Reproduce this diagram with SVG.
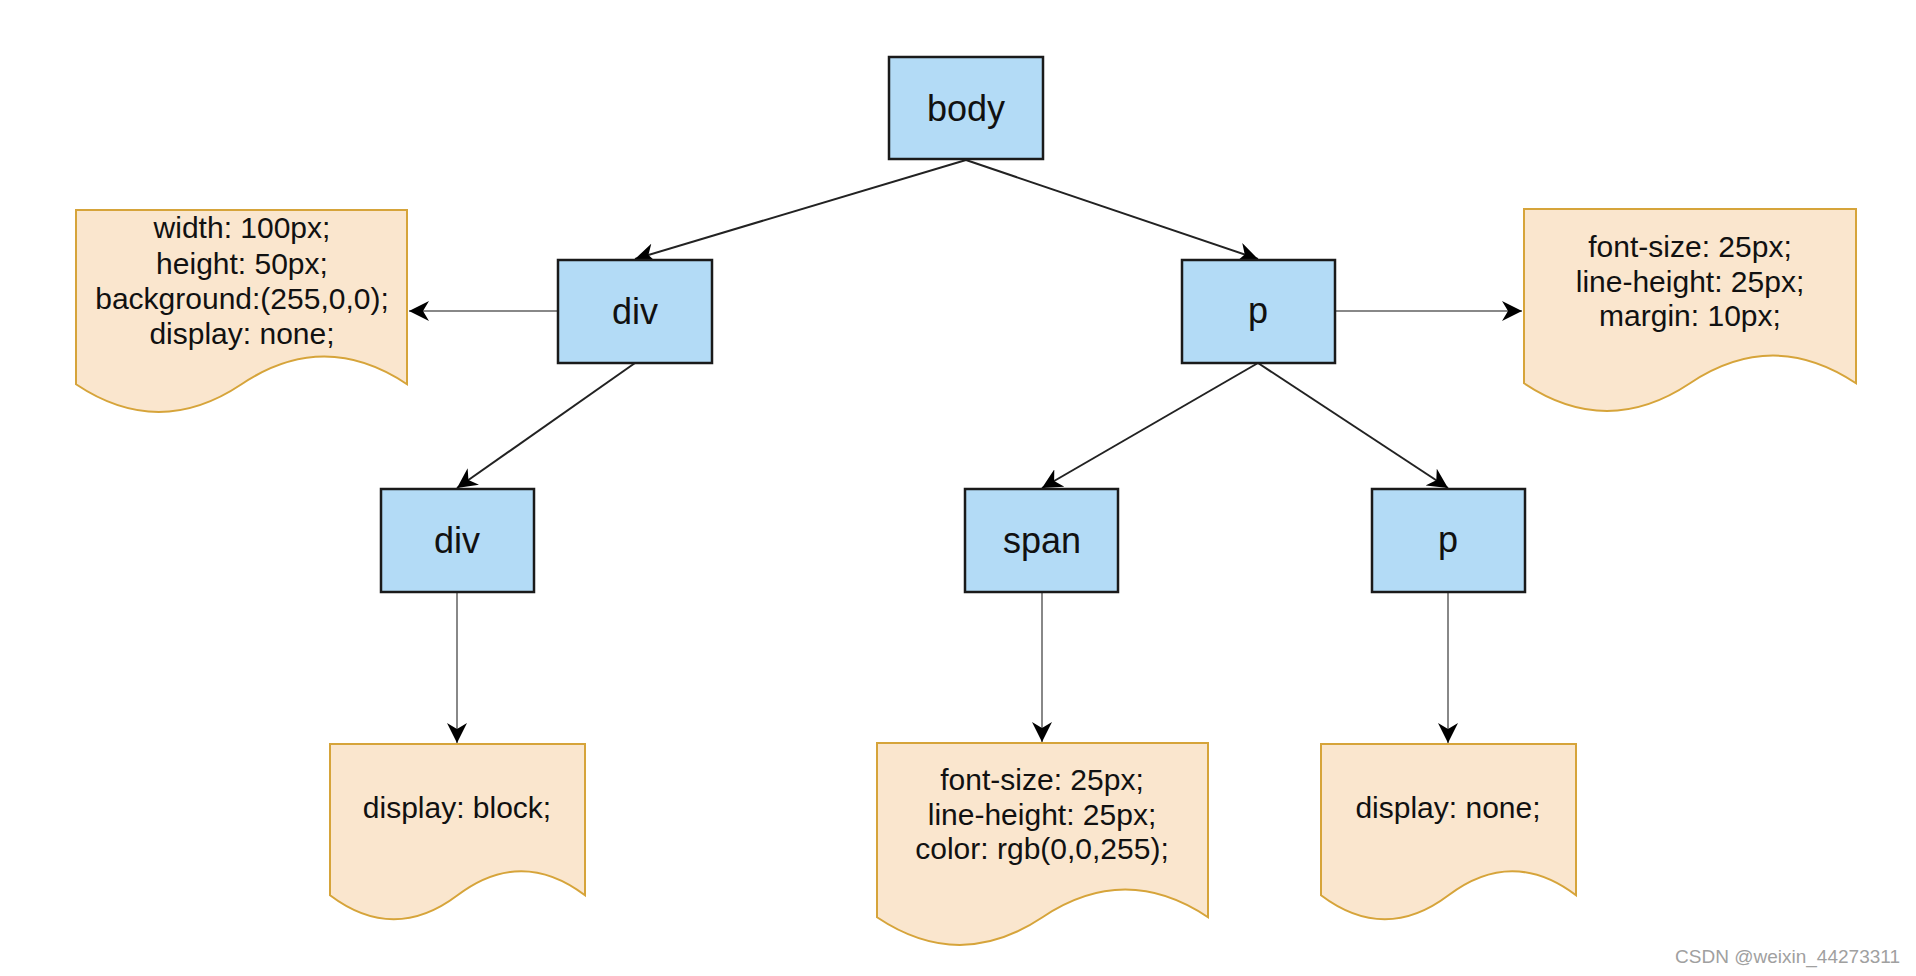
<svg xmlns="http://www.w3.org/2000/svg" width="1916" height="976" viewBox="0 0 1916 976">
<style>
.box{fill:#b3dbf6;stroke:#1a1a1a;stroke-width:2.5}
.note{fill:#fae6ce;stroke:#d6a43a;stroke-width:2}
.lbl{font-family:"Liberation Sans",Arial,sans-serif;font-size:36px;fill:#111;text-anchor:middle}
.ntxt{font-family:"Liberation Sans",Arial,sans-serif;font-size:30px;fill:#111;text-anchor:middle}
.tree{stroke:#222;stroke-width:2;fill:none}
.attr{stroke:#888;stroke-width:2;fill:none}
.wm{font-family:"Liberation Sans",Arial,sans-serif;font-size:19px;fill:#a0a0a0;text-anchor:end}
</style>
<defs>
<marker id="arr" markerUnits="userSpaceOnUse" markerWidth="20" markerHeight="20" viewBox="0 0 20 20" refX="20" refY="10" orient="auto">
<path d="M0,0 L20,10 L0,20 L6,10 Z" fill="#000"/>
</marker>
</defs>
<rect width="1916" height="976" fill="#fff"/>
<g id="connectors">
<line class="tree" x1="966" y1="160" x2="635" y2="259" marker-end="url(#arr)"/>
<line class="tree" x1="966" y1="160" x2="1258" y2="259" marker-end="url(#arr)"/>
<line class="attr" x1="558" y1="311" x2="409" y2="311" marker-end="url(#arr)"/>
<line class="attr" x1="1335" y1="311" x2="1522" y2="311" marker-end="url(#arr)"/>
<line class="tree" x1="635" y1="363" x2="457" y2="488" marker-end="url(#arr)"/>
<line class="tree" x1="1258" y1="363" x2="1042" y2="488" marker-end="url(#arr)"/>
<line class="tree" x1="1258" y1="363" x2="1448" y2="488" marker-end="url(#arr)"/>
<line class="attr" x1="457" y1="592" x2="457" y2="743" marker-end="url(#arr)"/>
<line class="attr" x1="1042" y1="592" x2="1042" y2="742" marker-end="url(#arr)"/>
<line class="attr" x1="1448" y1="592" x2="1448" y2="743" marker-end="url(#arr)"/>
</g>
<g id="node-body">
<rect class="box" x="889" y="57" width="154" height="102"/>
<text class="lbl" x="966" y="121">body</text>
</g>
<g id="node-div1">
<rect class="box" x="558" y="260" width="154" height="103"/>
<text class="lbl" x="635" y="324">div</text>
</g>
<g id="node-p1">
<rect class="box" x="1182" y="260" width="153" height="103"/>
<text class="lbl" x="1258" y="323">p</text>
</g>
<g id="node-div2">
<rect class="box" x="381" y="489" width="153" height="103"/>
<text class="lbl" x="457" y="553">div</text>
</g>
<g id="node-span">
<rect class="box" x="965" y="489" width="153" height="103"/>
<text class="lbl" x="1042" y="553">span</text>
</g>
<g id="node-p2">
<rect class="box" x="1372" y="489" width="153" height="103"/>
<text class="lbl" x="1448" y="552">p</text>
</g>
<g id="note-div1">
<path class="note" d="M76,210 H407 V384.25 Q324.25,328.9 241.5,384.25 Q158.75,439.6 76,384.25 Z"/>
<text class="ntxt" x="242" y="238">width: 100px;</text>
<text class="ntxt" x="242" y="273.5">height: 50px;</text>
<text class="ntxt" x="242" y="309">background:(255,0,0);</text>
<text class="ntxt" x="242" y="344">display: none;</text>
</g>
<g id="note-p1">
<path class="note" d="M1524,209 H1856 V383.25 Q1773,327.9 1690,383.25 Q1607,438.6 1524,383.25 Z"/>
<text class="ntxt" x="1690" y="257">font-size: 25px;</text>
<text class="ntxt" x="1690" y="291.5">line-height: 25px;</text>
<text class="ntxt" x="1690" y="326">margin: 10px;</text>
</g>
<g id="note-div2">
<path class="note" d="M330,744 H585 V895.3 Q521.25,847.24 457.5,895.3 Q393.75,943.36 330,895.3 Z"/>
<text class="ntxt" x="457" y="818">display: block;</text>
</g>
<g id="note-span">
<path class="note" d="M877,743 H1208 V917.25 Q1125.25,861.9 1042.5,917.25 Q959.75,972.6 877,917.25 Z"/>
<text class="ntxt" x="1042" y="790">font-size: 25px;</text>
<text class="ntxt" x="1042" y="824.5">line-height: 25px;</text>
<text class="ntxt" x="1042" y="859">color: rgb(0,0,255);</text>
</g>
<g id="note-p2">
<path class="note" d="M1321,744 H1576 V895.3 Q1512.25,847.24 1448.5,895.3 Q1384.75,943.36 1321,895.3 Z"/>
<text class="ntxt" x="1448" y="818">display: none;</text>
</g>
<text class="wm" x="1900" y="963">CSDN @weixin_44273311</text>
</svg>
